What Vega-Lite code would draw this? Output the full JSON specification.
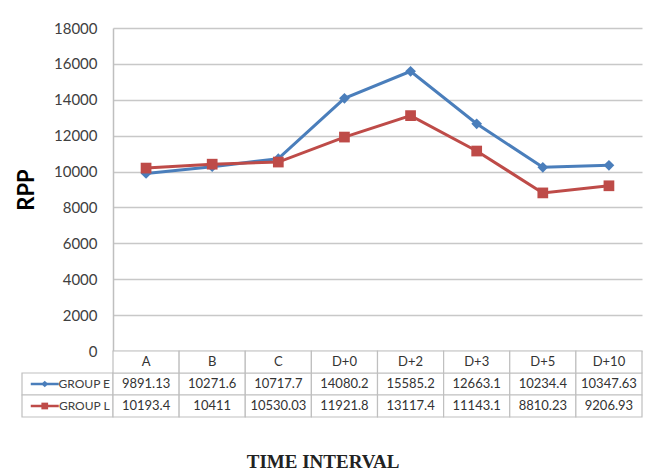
{
  "$schema": "https://vega.github.io/schema/vega-lite/v6.json",
  "padding": {"left": 15, "top": 21, "right": 3, "bottom": 0},
  "background": "white",
  "datasets": {
    "rpp": [
      {"interval": "A", "group": "GROUP E", "rpp": 9891.13},
      {"interval": "B", "group": "GROUP E", "rpp": 10271.6},
      {"interval": "C", "group": "GROUP E", "rpp": 10717.7},
      {"interval": "D+0", "group": "GROUP E", "rpp": 14080.2},
      {"interval": "D+2", "group": "GROUP E", "rpp": 15585.2},
      {"interval": "D+3", "group": "GROUP E", "rpp": 12663.1},
      {"interval": "D+5", "group": "GROUP E", "rpp": 10234.4},
      {"interval": "D+10", "group": "GROUP E", "rpp": 10347.63},
      {"interval": "A", "group": "GROUP L", "rpp": 10193.4},
      {"interval": "B", "group": "GROUP L", "rpp": 10411},
      {"interval": "C", "group": "GROUP L", "rpp": 10530.03},
      {"interval": "D+0", "group": "GROUP L", "rpp": 11921.8},
      {"interval": "D+2", "group": "GROUP L", "rpp": 13117.4},
      {"interval": "D+3", "group": "GROUP L", "rpp": 11143.1},
      {"interval": "D+5", "group": "GROUP L", "rpp": 8810.23},
      {"interval": "D+10", "group": "GROUP L", "rpp": 9206.93}
    ]
  },
  "title": {
    "text": "TIME INTERVAL",
    "orient": "bottom",
    "anchor": "middle",
    "font": "Liberation Serif",
    "fontSize": 19,
    "fontWeight": "bold",
    "color": "#222222",
    "offset": 35,
    "dx": -6
  },
  "columns": 2,
  "spacing": 0,
  "bounds": "flush",
  "concat": [
    {
      "width": 91,
      "height": 323,
      "data": {"values": []},
      "mark": "point"
    },
    {
      "width": 529,
      "height": 323,
      "data": {"name": "rpp"},
      "encoding": {
        "x": {
          "field": "interval",
          "type": "ordinal",
          "sort": ["A", "B", "C", "D+0", "D+2", "D+3", "D+5", "D+10"],
          "scale": {"domain": ["A", "B", "C", "D+0", "D+2", "D+3", "D+5", "D+10"]},
          "axis": null
        },
        "y": {
          "field": "rpp",
          "type": "quantitative",
          "scale": {"domain": [0, 18000], "nice": false},
          "axis": {
            "values": [0, 2000, 4000, 6000, 8000, 10000, 12000, 14000, 16000, 18000],
            "format": "d",
            "grid": true,
            "gridColor": "#c8c8c8",
            "gridWidth": 1.5,
            "domain": true,
            "domainColor": "#bfbfbf",
            "domainWidth": 1.5,
            "ticks": false,
            "labelFont": "Lato",
            "labelFontSize": 15,
            "labelColor": "#404040",
            "labelPadding": 16,
            "title": "RPP",
            "titleFont": "Lato",
            "titleFontSize": 22,
            "titleFontWeight": "bold",
            "titleColor": "#000000",
            "titlePadding": 15
          }
        },
        "color": {
          "field": "group",
          "type": "nominal",
          "scale": {"domain": ["GROUP E", "GROUP L"], "range": ["#4a7ebb", "#be4b48"]},
          "legend": null
        }
      },
      "layer": [
        {"mark": {"type": "line", "strokeWidth": 3}},
        {
          "mark": {"type": "point", "filled": true, "size": 115, "opacity": 1},
          "encoding": {
            "shape": {
              "field": "group",
              "type": "nominal",
              "scale": {"domain": ["GROUP E", "GROUP L"], "range": ["diamond", "square"]},
              "legend": null
            }
          }
        }
      ]
    },
    {
      "width": 91,
      "height": 66,
      "data": {"name": "rpp"},
      "transform": [{"filter": "datum.interval === 'A'"}],
      "encoding": {
        "y": {
          "field": "group",
          "type": "nominal",
          "scale": {"domain": ["hdr", "GROUP E", "GROUP L"], "paddingInner": 0, "paddingOuter": 0},
          "axis": null
        }
      },
      "layer": [
        {"mark": {"type": "rect", "fill": "white", "stroke": "#bfbfbf", "strokeWidth": 1.2}},
        {
          "mark": {"type": "point", "shape": "M-1,0L1,0", "size": 784, "strokeWidth": 2.5, "opacity": 1},
          "encoding": {
            "x": {"datum": "sym", "type": "nominal", "scale": {"domain": ["sym", "name"], "paddingInner": 0, "paddingOuter": 0}, "axis": null},
            "color": {"field": "group", "type": "nominal", "scale": {"domain": ["GROUP E", "GROUP L"], "range": ["#4a7ebb", "#be4b48"]}, "legend": null}
          }
        },
        {
          "mark": {"type": "point", "filled": true, "size": 45, "opacity": 1},
          "encoding": {
            "x": {"datum": "sym", "type": "nominal"},
            "color": {"field": "group", "type": "nominal", "legend": null},
            "shape": {"field": "group", "type": "nominal", "scale": {"domain": ["GROUP E", "GROUP L"], "range": ["diamond", "square"]}, "legend": null}
          }
        },
        {
          "mark": {"type": "text", "font": "Lato", "fontSize": 12, "color": "#404040", "dx": -6},
          "encoding": {
            "x": {"datum": "name", "type": "nominal"},
            "text": {"field": "group", "type": "nominal"}
          }
        }
      ]
    },
    {
      "width": 529,
      "height": 66,
      "data": {"name": "rpp"},
      "encoding": {
        "x": {
          "field": "interval",
          "type": "nominal",
          "sort": ["A", "B", "C", "D+0", "D+2", "D+3", "D+5", "D+10"],
          "scale": {"domain": ["A", "B", "C", "D+0", "D+2", "D+3", "D+5", "D+10"], "paddingInner": 0, "paddingOuter": 0},
          "axis": null
        }
      },
      "layer": [
        {
          "mark": {"type": "rect", "fill": "white", "stroke": "#bfbfbf", "strokeWidth": 1.2},
          "encoding": {
            "y": {"field": "group", "type": "nominal", "scale": {"domain": ["hdr", "GROUP E", "GROUP L"], "paddingInner": 0, "paddingOuter": 0}, "axis": null}
          }
        },
        {
          "transform": [{"filter": "datum.group === 'GROUP E'"}],
          "mark": {"type": "rect", "fill": "white", "stroke": "#bfbfbf", "strokeWidth": 1.2},
          "encoding": {"y": {"datum": "hdr", "type": "nominal"}}
        },
        {
          "mark": {"type": "text", "font": "Lato", "fontSize": 13, "color": "#333333"},
          "encoding": {
            "y": {"field": "group", "type": "nominal"},
            "text": {"field": "rpp", "type": "nominal"}
          }
        },
        {
          "transform": [{"filter": "datum.group === 'GROUP E'"}],
          "mark": {"type": "text", "font": "Lato", "fontSize": 13, "color": "#333333"},
          "encoding": {
            "y": {"datum": "hdr", "type": "nominal"},
            "text": {"field": "interval", "type": "nominal"}
          }
        }
      ]
    }
  ],
  "config": {"view": {"stroke": null}, "font": "Lato"}
}
